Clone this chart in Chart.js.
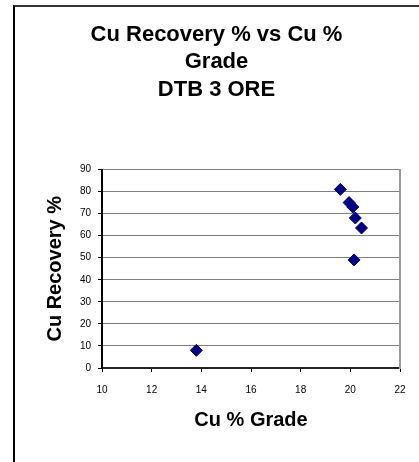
<!DOCTYPE html>
<html>
<head>
<meta charset="utf-8">
<script src="https://cdn.jsdelivr.net/npm/chart.js@4.4.0/dist/chart.umd.min.js"></script>
<style>
  body { margin:0; background:#fff; overflow:hidden; }
  #wrap { position:relative; width:419px; height:462px; }
  #frame { position:absolute; left:13px; top:5px; width:420px; height:470px; border-left:2px solid #000; border-top:2px solid #333; }
  #graphicFirst { position:absolute; left:0; top:0; }
</style>
</head>
<body>
<div id="wrap">
  <div id="frame"></div>
  <canvas id="graphicFirst" width="419" height="462"></canvas>
</div>
<script>
//-----Variables
const titleLines = ['Cu Recovery % vs Cu %', 'Grade', 'DTB 3 ORE'];
const xTitle = 'Cu % Grade';
const yTitle = 'Cu Recovery %';
const cuGrade = [13.8, 19.6, 19.95, 20.1, 20.2, 20.45, 20.15];
const cuRecovery = [8, 81, 75, 73, 68, 63.5, 49];
const xTicks = [10, 12, 14, 16, 18, 20, 22];
const yTicks = [0, 10, 20, 30, 40, 50, 60, 70, 80, 90];

const fontName = 'Arial, "Liberation Sans", sans-serif';

var points = cuGrade.map(function(x, i){ return { x: x, y: cuRecovery[i] }; });

var data1 = {
  datasets: [
    {
      label: yTitle,
      data: points,
      pointStyle: 'rectRot',
      pointRadius: 6,
      pointBackgroundColor: '#000080',
      pointBorderColor: '#000080',
      pointBorderWidth: 1,
      showLine: false,
    },
  ]
};

var setOptions1 = {
  responsive: false,
  animation: false,
  layout: {
    padding: { left: 14, right: 0, top: 0, bottom: 0 }
  },
  plugins: {
    legend: { display: false },
    tooltip: { enabled: false },
    title: {
      display: true,
      text: titleLines,
      color: '#000',
      font: { family: fontName, size: 22, weight: 'bold', lineHeight: 1.25 },
      padding: { top: 21, bottom: 66 }
    }
  },
  scales: {
    x: {
      type: 'linear',
      position: 'bottom',
      min: xTicks[0],
      max: xTicks[xTicks.length - 1],
      afterBuildTicks: function(scale){ scale.ticks = xTicks.map(function(v){ return { value: v }; }); },
      afterFit: function(scale){ scale.height = 94; },
      ticks: {
        color: '#000',
        padding: 12,
        maxRotation: 0,
        font: { family: fontName, size: 10 }
      },
      grid: {
        drawOnChartArea: false,
        drawTicks: true,
        tickLength: 4,
        tickColor: '#000',
        tickWidth: 1
      },
      border: { color: '#222', width: 2 },
      title: {
        display: true,
        text: xTitle,
        color: '#000',
        font: { family: fontName, size: 20, weight: 'bold', lineHeight: 1.2 },
        padding: { top: 0, bottom: 30 }
      }
    },
    y: {
      type: 'linear',
      position: 'left',
      min: yTicks[0],
      max: yTicks[yTicks.length - 1],
      afterBuildTicks: function(scale){ scale.ticks = yTicks.map(function(v){ return { value: v }; }); },
      afterFit: function(scale){ scale.width = 88; },
      ticks: {
        color: '#000',
        padding: 7,
        font: { family: fontName, size: 10 }
      },
      grid: {
        color: '#808080',
        lineWidth: 1,
        drawTicks: true,
        tickLength: 4,
        tickColor: '#000',
        tickWidth: 1
      },
      border: { color: '#000', width: 2 },
      title: {
        display: true,
        text: yTitle,
        color: '#000',
        font: { family: fontName, size: 20, weight: 'bold', lineHeight: 1.2 },
        padding: { top: 29, bottom: 0 }
      }
    },
    yRight: {
      type: 'linear',
      position: 'right',
      min: yTicks[0],
      max: yTicks[yTicks.length - 1],
      afterFit: function(scale){ scale.width = 19; },
      ticks: { display: false },
      grid: { drawOnChartArea: false, drawTicks: false },
      border: { color: '#999', width: 2 }
    }
  }
};

//-----GRAPICH
let chart1;
function drawGraphicFirst(data, setOptions){
  var ctx = document.getElementById('graphicFirst').getContext('2d');
  if (chart1) {
    chart1.destroy();
  }
  chart1 = new Chart(ctx, {
    type: 'scatter',
    data: data,
    options: setOptions,
  });
}

drawGraphicFirst(data1, setOptions1);
</script>
</body>
</html>
